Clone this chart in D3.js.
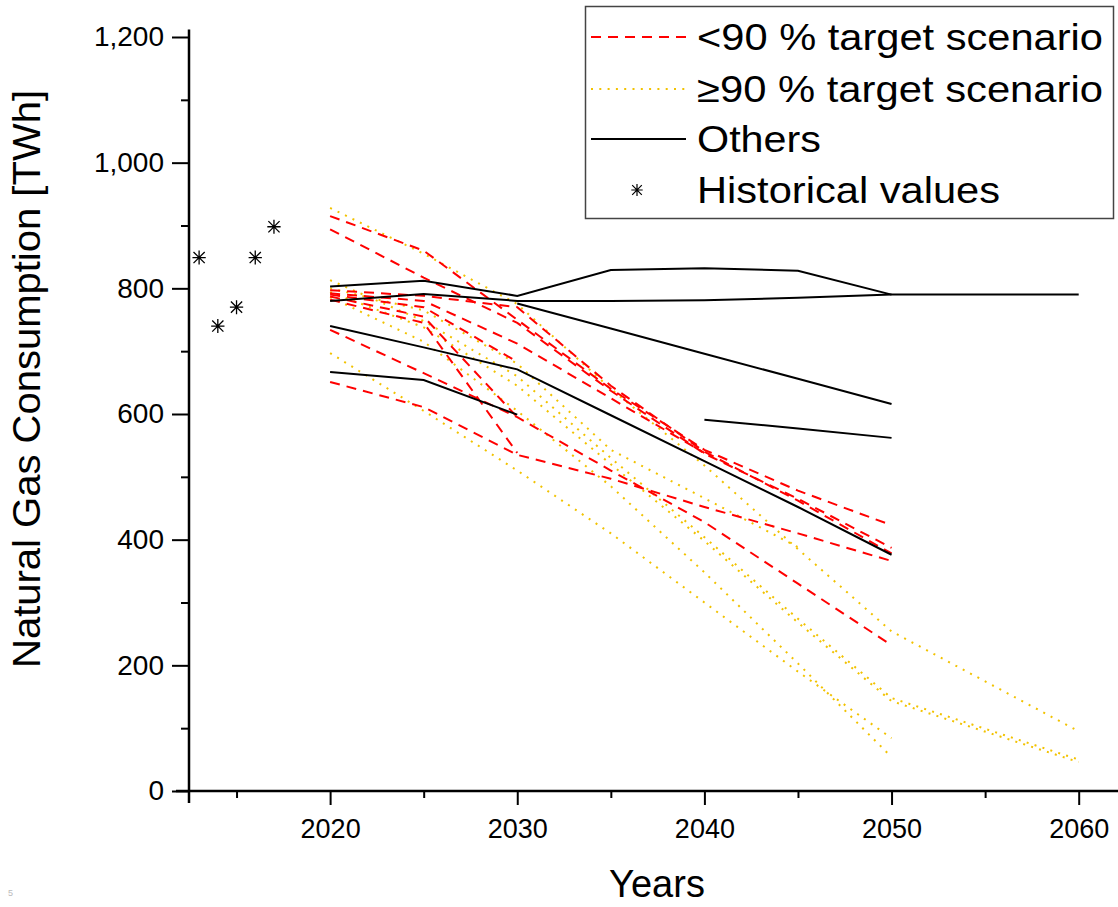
<!DOCTYPE html>
<html>
<head>
<meta charset="utf-8">
<script src="https://cdn.jsdelivr.net/npm/d3@7"></script>
<style>
  html, body { margin: 0; padding: 0; background: #fff; }
  svg { display: block; font-family: "Liberation Sans", Arial, sans-serif; }
</style>
</head>
<body>
<svg id="chart" width="1118" height="907"></svg>
<script>
// ---------- data ----------
const years = [2020, 2025, 2030, 2035, 2040, 2045, 2050, 2060];

// <90 % target scenarios (red dashed)
const red1 = [915, 860, 750, 640, 543, 478, 423, null];
const red2 = [894, 817, 745, 637, 537, 465, 387, null];
const red3 = [797, 788, 770, 645, 540, 462, 378, null];
const red4 = [792, 780, 712, 625, 538, null, null, null];
const red5 = [790, 770, 683, null, null, null, null, null];
const red6 = [787, 755, 595, null, null, null, null, null];
const red7 = [782, 745, 538, null, null, null, null, null];
const red8 = [734, 665, 595, 510, 428, 330, 232, null];
const red9 = [651, 611, 535, 497, 452, 410, 366, null];

// >=90 % target scenarios (yellow dotted)
const yel1 = [928, 855, 775, 640, 518, 385, 254, 95];
const yel2 = [813, 748, 660, 530, 404, 274, 148, 50];
const yel3 = [794, 738, 645, 520, 398, 268, 143, 46];
const yel4 = [786, 715, 605, 485, 348, 203, 54, null];
const yel5 = [697, 605, 510, 410, 300, 190, 84, null];
const yel6 = [800, 765, 680, 543, 466, 388, null, null];

// Others (black solid)
const blk1 = [803, 812, 788, 829, 832, 828, 790, null];
const blk2 = [780, 791, 780, 780, 781, 785, 790, 790];
const blk3 = [740, 706, 671, 598, 525, 452, 376, null];
const blk4 = [667, 654, 599, null, null, null, null, null];
const blk5 = [null, null, null, null, 591, 577, 562, null];
const blk6 = [null, null, 776, 736, 696, 656, 616, null];

// Historical values
const histYears = [2013, 2014, 2015, 2016, 2017];
const histValues = [849, 740, 770, 849, 898];

// ticks / labels
const xMajorTicks = [2020, 2030, 2040, 2050, 2060];
const xMinorTicks = [2015, 2025, 2035, 2045, 2055];
const yMajorTicks = [0, 200, 400, 600, 800, 1000, 1200];
const yMinorTicks = [100, 300, 500, 700, 900, 1100];
const legendLabels = ["<90 % target scenario", "\u226590 % target scenario", "Others", "Historical values"];
const xTitle = "Years";
const yTitle = "Natural Gas Consumption [TWh]";

const redSeries = [red1, red2, red3, red4, red5, red6, red7, red8, red9];
const yelSeries = [yel1, yel2, yel3, yel4, yel5, yel6];
const blkSeries = [blk1, blk2, blk3, blk4, blk5, blk6];

// ---------- styles ----------
const RED = "#FF0000";
const YEL = "#F2C200";
const BLK = "#000000";

// ---------- layout ----------
const svg = d3.select("#chart");
const x = d3.scaleLinear().domain([2012.46, 2062.1]).range([189, 1118]);
const y = d3.scaleLinear().domain([0, 1200]).range([791, 37]);

const line = d3.line()
  .defined(d => d[1] != null)
  .x(d => x(d[0]))
  .y(d => y(d[1]));

const toPts = s => years.map((yr, i) => [yr, s[i]]);

const plot = svg.append("g");

// yellow dotted
plot.selectAll("path.yel").data(yelSeries).join("path")
  .attr("class", "yel")
  .attr("d", s => line(toPts(s)))
  .attr("fill", "none")
  .attr("stroke", YEL)
  .attr("stroke-width", 2)
  .attr("stroke-dasharray", "2,6.3");

// red dashed
plot.selectAll("path.red").data(redSeries).join("path")
  .attr("class", "red")
  .attr("d", s => line(toPts(s)))
  .attr("fill", "none")
  .attr("stroke", RED)
  .attr("stroke-width", 2)
  .attr("stroke-dasharray", "10,7");

// black solid
plot.selectAll("path.blk").data(blkSeries).join("path")
  .attr("class", "blk")
  .attr("d", s => line(toPts(s)))
  .attr("fill", "none")
  .attr("stroke", BLK)
  .attr("stroke-width", 2);

// asterisk marker
function asterisk(sel, r, w) {
  const d = r * 0.8;
  sel.append("path")
    .attr("d", `M0,${-r}V${r}M${-d},${-d}L${d},${d}M${-d},${d}L${d},${-d}M${-r * 0.95},0H${r * 0.95}`)
    .attr("stroke", "#000")
    .attr("stroke-width", w)
    .attr("fill", "none");
}
histYears.forEach((yr, i) => {
  const g = plot.append("g").attr("transform", `translate(${x(yr)},${y(histValues[i])})`);
  asterisk(g, 7, 1.3);
});

// ---------- axes ----------
const axisG = svg.append("g");
// x axis
const xAxisMajor = d3.axisBottom(x).tickValues(xMajorTicks).tickSize(14).tickPadding(14).tickFormat(d3.format("d"));
const gx = axisG.append("g").attr("transform", `translate(0,${y(0)})`).call(xAxisMajor);
gx.select(".domain").remove();
gx.selectAll("line").attr("stroke", "#000").attr("stroke-width", 2);
gx.selectAll("text").attr("font-size", 27).attr("fill", "#000").attr("font-family", "Liberation Sans, Arial, sans-serif");
const xAxisMinor = d3.axisBottom(x).tickValues(xMinorTicks).tickSize(7).tickFormat("");
const gx2 = axisG.append("g").attr("transform", `translate(0,${y(0)})`).call(xAxisMinor);
gx2.select(".domain").remove();
gx2.selectAll("line").attr("stroke", "#000").attr("stroke-width", 2);
axisG.append("line")
  .attr("x1", 176).attr("x2", 1118)
  .attr("y1", y(0)).attr("y2", y(0))
  .attr("stroke", "#000").attr("stroke-width", 2.5);

// y axis
const yAxisMajor = d3.axisLeft(y).tickValues(yMajorTicks).tickSize(17).tickPadding(8).tickFormat(d3.format(","));
const gy = axisG.append("g").attr("transform", `translate(${x.range()[0]},0)`).call(yAxisMajor);
gy.select(".domain").remove();
gy.selectAll("line").attr("stroke", "#000").attr("stroke-width", 2);
gy.selectAll("text").attr("font-size", 28).attr("fill", "#000").attr("font-family", "Liberation Sans, Arial, sans-serif");
const yAxisMinor = d3.axisLeft(y).tickValues(yMinorTicks).tickSize(8).tickFormat("");
const gy2 = axisG.append("g").attr("transform", `translate(${x.range()[0]},0)`).call(yAxisMinor);
gy2.select(".domain").remove();
gy2.selectAll("line").attr("stroke", "#000").attr("stroke-width", 2);
axisG.append("line")
  .attr("x1", x.range()[0]).attr("x2", x.range()[0])
  .attr("y1", y(0) + 12).attr("y2", y(1212))
  .attr("stroke", "#000").attr("stroke-width", 2.5);

// titles
svg.append("text")
  .attr("x", 657).attr("y", 897)
  .attr("text-anchor", "middle")
  .attr("font-size", 38)
  .text(xTitle);
svg.append("text")
  .attr("transform", "translate(40,379) rotate(-90)")
  .attr("text-anchor", "middle")
  .attr("font-size", 38)
  .attr("textLength", 578)
  .attr("lengthAdjust", "spacingAndGlyphs")
  .text(yTitle);

// tiny artefact label bottom-left
svg.append("text")
  .attr("x", 8).attr("y", 896)
  .attr("font-size", 9)
  .attr("fill", "#bbb")
  .text("5");

// ---------- legend ----------
const lg = svg.append("g");
lg.append("rect")
  .attr("x", 585.5).attr("y", 6.5)
  .attr("width", 528).attr("height", 212)
  .attr("fill", "#fff")
  .attr("stroke", "#444")
  .attr("stroke-width", 1.5);
const rowY = [37, 89, 139, 190];
const textLens = [406, 406, 124, 303];
const legendStyles = [
  { stroke: RED, dash: "10,7" },
  { stroke: YEL, dash: "2,6.3" },
  { stroke: BLK, dash: null },
  null
];
legendLabels.forEach((lab, i) => {
  const st = legendStyles[i];
  if (st) {
    lg.append("line")
      .attr("x1", 591).attr("x2", 686)
      .attr("y1", rowY[i]).attr("y2", rowY[i])
      .attr("stroke", st.stroke)
      .attr("stroke-width", 2)
      .attr("stroke-dasharray", st.dash);
  } else {
    asterisk(lg.append("g").attr("transform", `translate(637,${rowY[i]})`), 6, 1.2);
  }
  lg.append("text")
    .attr("x", 697).attr("y", rowY[i] + 13)
    .attr("font-size", 37)
    .attr("textLength", textLens[i])
    .attr("lengthAdjust", "spacingAndGlyphs")
    .text(lab);
});
</script>
</body>
</html>
